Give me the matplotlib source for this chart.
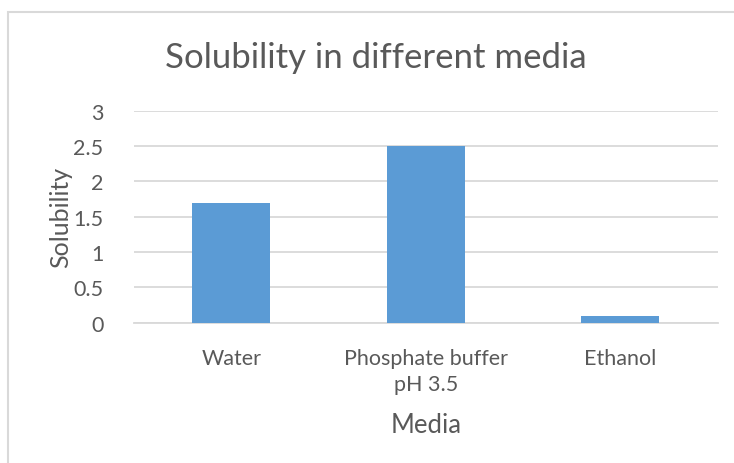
import matplotlib
matplotlib.use("Agg")
import matplotlib.pyplot as plt
from matplotlib.patches import Rectangle

# Data
categories = ["Water", "Phosphate buffer\npH 3.5", "Ethanol"]
solubility = [1.7, 2.5, 0.1]
y_ticks = [0, 0.5, 1, 1.5, 2, 2.5, 3]
y_tick_labels = ["0", "0.5", "1", "1.5", "2", "2.5", "3"]

TEXT = "#595959"
GRID = "#D9D9D9"
BAR = "#5B9BD5"

plt.rcParams["font.family"] = ["Lato", "DejaVu Sans"]

fig = plt.figure(figsize=(7.34, 4.64), dpi=100)
fig.patch.set_facecolor("white")

# chart frame (runs off the right and bottom edges)
fig.patches.append(Rectangle((8 / 734, -0.1), 1.2, 1 - 13 / 464 + 0.1,
                             transform=fig.transFigure, fill=False,
                             edgecolor=GRID, linewidth=1.5))

ax = fig.add_axes([134 / 734, 1 - 323.7 / 464, (717.5 - 134) / 734, (323.7 - 111.7) / 464])
x = range(len(categories))
ax.bar(x, solubility, width=0.4, color=BAR, zorder=3)

ax.set_xlim(-0.5, 2.5)
ax.set_ylim(0, 3)
ax.set_yticks(y_ticks)
ax.set_yticklabels(y_tick_labels)
ax.set_xticks(list(x))
ax.set_xticklabels(categories, linespacing=1.4)

ax.yaxis.grid(True, color=GRID, linewidth=1.3, zorder=0)
ax.set_axisbelow(True)
for side in ["top", "right", "left"]:
    ax.spines[side].set_visible(False)
ax.spines["bottom"].set_color(GRID)
ax.spines["bottom"].set_linewidth(1.3)

ax.tick_params(axis="both", length=0, colors=TEXT, labelsize=15.5)
ax.tick_params(axis="y", pad=22)
ax.tick_params(axis="x", pad=18)

ax.set_ylabel("Solubility", color=TEXT, fontsize=18, labelpad=1)
ax.set_xlabel("Media", color=TEXT, fontsize=18.5, labelpad=13)

fig.text(376 / 734, 1 - 58 / 464, "Solubility in different media",
         ha="center", va="center", color=TEXT, fontsize=25)

fig.savefig("out.png", dpi=100, facecolor="white")
